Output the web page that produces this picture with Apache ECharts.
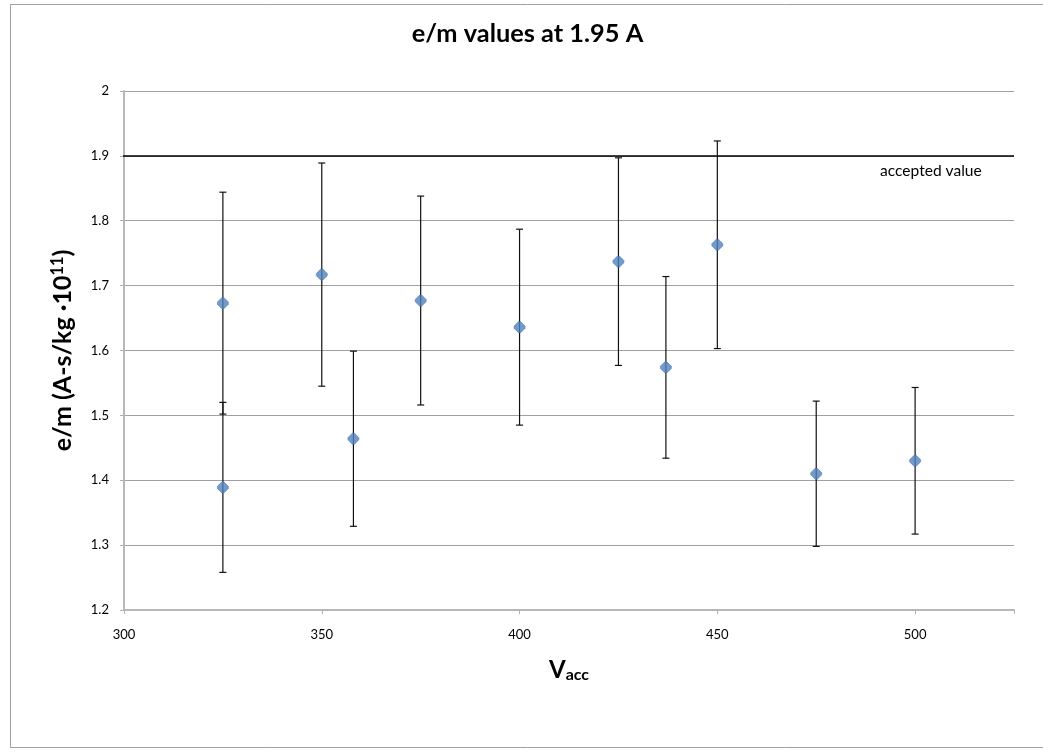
<!DOCTYPE html>
<html><head><meta charset="utf-8">
<script src="https://cdn.jsdelivr.net/npm/echarts@6/dist/echarts.min.js"></script>
<style>html,body{margin:0;padding:0;background:#fff}#c{width:1043px;height:755px}</style>
</head><body><div id="c"></div>
<script>
// Data
const vacc      = [325, 325, 350, 358, 375, 400, 425, 437, 450, 475, 500];
const emValues  = [1.673, 1.389, 1.717, 1.464, 1.677, 1.636, 1.737, 1.574, 1.763, 1.410, 1.430];
const emErrors  = [0.171, 0.131, 0.172, 0.135, 0.161, 0.151, 0.160, 0.140, 0.160, 0.112, 0.113];
const acceptedValue = 1.9;
const acceptedX = [297.5, 525];
const titleText = 'e/m values at 1.95 A';
const acceptedLabel = 'accepted value';

const FONT = 'Lato';
const cv = document.createElement('canvas').getContext('2d');
function w(text, size, weight) { cv.font = (weight || 'normal') + ' ' + size + 'px ' + FONT; return cv.measureText(text).width; }
function fit(text, target, weight) { return 20 * target / w(text, 20, weight); }

const titleSize = fit(titleText, 231.6, 'bold');
const tickSize = fit('400', 22.7);
const accSize = fit(acceptedLabel, 101.7);
const yMain = 'e/m (A-s/kg ·10', ySup = '11', yEnd = ')';
const yNameSize = 20 * 201.6 / (w(yMain, 20, 'bold') + w(yEnd, 20, 'bold') + w(ySup, 13, 'bold'));

const pts = vacc.map((x, i) => [x, emValues[i]]);
const bars = vacc.map((x, i) => [x, emValues[i] - emErrors[i], emValues[i] + emErrors[i]]);
const accLine = acceptedX.map(x => [x, acceptedValue]);

// blunted diamond marker (Excel style)
const MARKER = 'path://M-1.2,-6L1.2,-6L6,-1.2L6,1.2L1.2,6L-1.2,6L-6,1.2L-6,-1.2Z';

const chart = echarts.init(document.getElementById('c'), null, {renderer: 'canvas'});
chart.setOption({
  animation: false,
  backgroundColor: '#fff',
  textStyle: {fontFamily: FONT},
  grid: {left: 124, right: 29, top: 91, bottom: 145},
  xAxis: {
    type: 'value', min: 300, max: 525, interval: 50,
    name: '{b|V}{s|acc}', nameLocation: 'middle', nameGap: 47,
    nameTextStyle: {rich: {
      b: {fontFamily: FONT, fontSize: 24, fontWeight: 'bold', color: '#000', lineHeight: 26},
      s: {fontFamily: FONT, fontSize: 16, fontWeight: 'bold', color: '#000', verticalAlign: 'bottom', lineHeight: 20}
    }},
    axisLine: {lineStyle: {color: '#B8B8B8', width: 2}},
    axisTick: {show: true, length: 4, lineStyle: {color: '#B0B0B0'}},
    splitLine: {show: false},
    axisLabel: {
      fontFamily: FONT, fontSize: tickSize, color: '#000', margin: 18,
      formatter: v => (v % 50 === 0 ? String(v) : '')
    }
  },
  yAxis: {
    type: 'value', min: 1.2, max: 2, interval: 0.1,
    name: '{b|' + yMain + '}{s|' + ySup + '}{b|' + yEnd + '}', nameLocation: 'middle', nameGap: 49, nameRotate: 90,
    nameTextStyle: {rich: {
      b: {fontFamily: FONT, fontSize: yNameSize, fontWeight: 'bold', color: '#000'},
      s: {fontFamily: FONT, fontSize: yNameSize * 0.65, fontWeight: 'bold', color: '#000', verticalAlign: 'top'}
    }},
    axisLine: {show: true, lineStyle: {color: '#B8B8B8', width: 2}},
    axisTick: {show: true, length: 4, lineStyle: {color: '#B0B0B0'}},
    splitLine: {show: true, lineStyle: {color: '#A0A0A0', width: 1}},
    axisLabel: {
      fontFamily: FONT, fontSize: tickSize, color: '#000', margin: 15,
      formatter: v => String(Math.round(v * 10) / 10)
    }
  },
  series: [
    {
      type: 'line', name: 'accepted value', data: accLine, clip: false, z: 2,
      symbol: 'none', lineStyle: {color: '#000', width: 1.5}
    },
    {
      type: 'custom', name: 'errors', z: 3,
      data: bars,
      renderItem: (params, api) => {
        const x = api.value(0);
        const lo = api.coord([x, api.value(1)]);
        const hi = api.coord([x, api.value(2)]);
        const cw = 3.5;
        const st = {stroke: '#111', lineWidth: 1.2};
        return {type: 'group', children: [
          {type: 'line', shape: {x1: lo[0], y1: lo[1], x2: hi[0], y2: hi[1]}, style: st},
          {type: 'line', shape: {x1: lo[0] - cw, y1: lo[1], x2: lo[0] + cw, y2: lo[1]}, style: st},
          {type: 'line', shape: {x1: hi[0] - cw, y1: hi[1], x2: hi[0] + cw, y2: hi[1]}, style: st}
        ]};
      }
    },
    {
      type: 'scatter', name: 'e/m', z: 4,
      data: pts,
      symbol: MARKER, symbolSize: 11,
      itemStyle: {color: '#4F81BD', borderColor: '#3E6DAA', borderWidth: 0.6}
    }
  ]
});

const endPx = chart.convertToPixel({gridIndex: 0}, [acceptedX[1], acceptedValue]);
chart.setOption({
  graphic: [
    {
      type: 'rect', left: 8, top: 2, silent: true,
      shape: {width: 1040, height: 743},
      style: {fill: 'none', stroke: '#A0A0A0', lineWidth: 1}
    },
    {
      type: 'text', x: 527.5, y: 34, silent: true,
      style: {text: titleText, font: 'bold ' + titleSize + 'px ' + FONT, fill: '#000', align: 'center', verticalAlign: 'middle'}
    },
    {
      type: 'text', x: endPx[0] - 32.3, y: endPx[1] + 15, silent: true,
      style: {text: acceptedLabel, font: accSize + 'px ' + FONT, fill: '#000', align: 'right', verticalAlign: 'middle'}
    }
  ]
});
</script></body></html>
